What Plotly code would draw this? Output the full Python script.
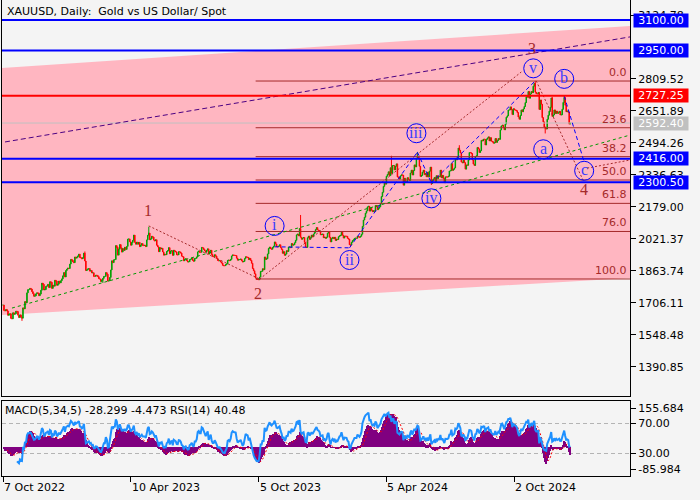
import numpy as np
import pandas as pd
import plotly.graph_objects as go

# ---------------- data ----------------
start_date = "2022-10-07"
holidays = ["2022-12-26", "2023-01-02", "2023-04-07", "2023-12-25",
            "2024-01-01", "2024-03-29", "2024-12-25", "2025-01-01"]

# daily closes, one line per month (Oct 2022 .. Dec 2024)
close = [
    1695, 1668, 1666, 1673, 1666, 1644, 1650, 1652, 1629, 1627, 1657, 1649, 1652, 1665, 1663, 1645, 1633,
    1647, 1636, 1630, 1681, 1676, 1712, 1706, 1755, 1771, 1771, 1777, 1774, 1761, 1751, 1738, 1740, 1750, 1755, 1754, 1741, 1749, 1768,
    1803, 1797, 1769, 1771, 1787, 1789, 1797, 1781, 1810, 1807, 1777, 1793, 1788, 1817, 1813, 1792, 1798, 1813, 1804, 1815, 1824,
    1839, 1855, 1833, 1865, 1872, 1877, 1875, 1897, 1920, 1916, 1908, 1904, 1932, 1926, 1931, 1937, 1946, 1929, 1928, 1923, 1928,
    1951, 1912, 1865, 1868, 1873, 1875, 1862, 1865, 1853, 1854, 1836, 1836, 1842, 1841, 1835, 1825, 1823, 1811, 1817, 1826,
    1836, 1836, 1855, 1847, 1813, 1814, 1831, 1868, 1913, 1904, 1918, 1919, 1988, 1979, 1941, 1970, 1993, 1977, 1956, 1973, 1964, 1980, 1969,
    1984, 2020, 2021, 2007, 1990, 2003, 2014, 2040, 2004, 1995, 2005, 1995, 2004, 1983, 1990, 1998, 1989, 1988, 1990,
    1983, 2016, 2039, 2050, 2017, 2021, 2034, 2030, 2015, 2011, 2017, 1990, 1982, 1958, 1978, 1971, 1975, 1957, 1941, 1946, 1943, 1959, 1963,
    1978, 1948, 1961, 1963, 1940, 1965, 1961, 1957, 1943, 1942, 1958, 1957, 1951, 1936, 1933, 1913, 1921, 1923, 1914, 1907, 1908, 1919,
    1921, 1926, 1915, 1911, 1925, 1925, 1932, 1957, 1961, 1955, 1955, 1979, 1977, 1969, 1962, 1955, 1965, 1972, 1946, 1959, 1965,
    1944, 1934, 1934, 1943, 1936, 1925, 1915, 1913, 1914, 1907, 1902, 1891, 1889, 1889, 1894, 1898, 1915, 1917, 1914, 1920, 1937, 1942, 1940,
    1940, 1939, 1926, 1916, 1919, 1919, 1922, 1913, 1907, 1910, 1924, 1933, 1931, 1930, 1919, 1925, 1915, 1901, 1875, 1864, 1849,
    1828, 1822, 1821, 1820, 1833, 1861, 1861, 1874, 1869, 1932, 1920, 1923, 1947, 1974, 1981, 1973, 1970, 1979, 1985, 2006, 1996, 1983,
    1982, 1985, 1992, 1978, 1969, 1950, 1958, 1940, 1946, 1963, 1959, 1981, 1981, 1978, 1998, 1990, 1992, 2002, 2014, 2041, 2045, 2036,
    2072, 2029, 2019, 2025, 2028, 2004, 1981, 1979, 2027, 2035, 2019, 2027, 2040, 2031, 2045, 2053, 2067, 2077, 2065, 2063,
    2058, 2041, 2043, 2045, 2027, 2030, 2024, 2029, 2049, 2055, 2029, 2006, 2023, 2029, 2022, 2029, 2013, 2020, 2018, 2032, 2036, 2039,
    2054, 2039, 2025, 2035, 2034, 2034, 2024, 2020, 1992, 1992, 2004, 2013, 2017, 2024, 2025, 2024, 2035, 2031, 2029, 2034, 2044,
    2083, 2114, 2128, 2148, 2159, 2179, 2182, 2158, 2175, 2162, 2155, 2160, 2157, 2186, 2181, 2165, 2172, 2179, 2194, 2230,
    2251, 2280, 2300, 2291, 2330, 2339, 2352, 2333, 2372, 2344, 2383, 2383, 2361, 2379, 2391, 2327, 2322, 2316, 2332, 2337, 2335, 2286,
    2320, 2303, 2301, 2323, 2314, 2309, 2346, 2360, 2336, 2358, 2386, 2376, 2415, 2425, 2421, 2379, 2329, 2334, 2350, 2360, 2338, 2343, 2327,
    2350, 2327, 2355, 2375, 2294, 2311, 2316, 2324, 2303, 2333, 2319, 2330, 2328, 2360, 2322, 2334, 2319, 2298, 2327, 2326,
    2326, 2330, 2356, 2357, 2392, 2359, 2364, 2371, 2414, 2411, 2422, 2469, 2458, 2445, 2400, 2396, 2409, 2397, 2365, 2386, 2384, 2410, 2447,
    2446, 2442, 2410, 2390, 2383, 2427, 2431, 2472, 2465, 2447, 2456, 2507, 2504, 2513, 2512, 2484, 2512, 2518, 2524, 2504, 2520, 2503,
    2500, 2493, 2495, 2516, 2497, 2506, 2516, 2512, 2558, 2578, 2582, 2570, 2559, 2587, 2621, 2628, 2657, 2657, 2672, 2658, 2634,
    2663, 2657, 2656, 2653, 2644, 2622, 2611, 2630, 2657, 2648, 2662, 2674, 2693, 2722, 2720, 2748, 2715, 2736, 2748, 2742, 2774, 2788, 2744,
    2736, 2736, 2743, 2659, 2706, 2685, 2619, 2598, 2573, 2565, 2563, 2611, 2631, 2651, 2670, 2716, 2625, 2632, 2657, 2639, 2651,
    2640, 2643, 2650, 2632, 2633, 2660, 2694, 2718, 2680, 2648, 2652, 2646, 2587, 2592.40,
]

# notable wicks
wick_high = {"2023-02-02": 1959, "2023-05-04": 2081, "2023-12-04": 2139, "2024-04-12": 2431,
             "2024-05-20": 2450, "2024-07-17": 2483, "2024-10-31": 2800, "2024-11-25": 2721,
             "2024-12-11": 2726}
wick_low = {"2022-11-03": 1617, "2023-02-28": 1804, "2023-10-06": 1818, "2024-02-14": 1984,
            "2024-06-07": 2287, "2024-11-14": 2541}

price_ticks = [1390.85, 1548.48, 1706.11, 1863.74, 2021.37, 2179.00, 2336.63,
               2494.26, 2651.89, 2809.52, 3124.78]
time_labels = [("2022-10-07", "7 Oct 2022"), ("2023-04-10", "10 Apr 2023"),
               ("2023-10-05", "5 Oct 2023"), ("2024-04-05", "5 Apr 2024"),
               ("2024-10-02", "2 Oct 2024")]

level_lines = [(3100.00, "#0000FF"), (2950.00, "#0000FF"), (2727.25, "#FF0000"),
               (2416.00, "#0000FF"), (2300.50, "#0000FF")]
bid_price = 2592.40

fib_high, fib_low = 2799.5, 1823.4
fib_start = "2023-10-02"
fib_ratios = [0.0, 23.6, 38.2, 50.0, 61.8, 76.0, 100.0]

channel_top = [2864, 3071]
channel_bottom = [1646, 1828]
green_line = [("2022-10-20", 1680), (None, 2533)]
purple_line = [("2022-10-11", 2499), (None, 3017)]

brown_dashed = [
    [("2023-05-04", 2085), ("2023-10-06", 1823)],
    [("2023-10-06", 1823), ("2024-10-11", 2844)],
    [("2024-11-01", 2800), ("2025-01-09", 2310)],
    [("2025-01-15", 2370), (None, 2410)],
]
blue_dashed = [
    [("2023-10-27", 1982), ("2024-02-13", 1977), ("2024-05-20", 2449),
     ("2024-06-07", 2297), ("2024-10-31", 2800)],
    [("2024-12-11", 2726), ("2025-01-10", 2400)],
]

wave_numbers = [("1", "2023-05-03", 2160), ("2", "2023-10-04", 1754),
                ("3", "2024-10-28", 2962), ("4", "2025-01-10", 2266)]
wave_circles = [("i", "2023-10-27", 2085), ("ii", "2024-02-13", 1917),
                ("iii", "2024-05-17", 2542), ("iv", "2024-06-07", 2221),
                ("v", "2024-10-29", 2862), ("a", "2024-11-12", 2463),
                ("b", "2024-12-11", 2810), ("c", "2025-01-10", 2357)]

label_boxes = [(3100.00, "#0000FF"), (2950.00, "#0000FF"), (2727.25, "#FF0000"),
               (2592.40, "#C0C0C0"), (2416.00, "#0000FF"), (2300.50, "#0000FF")]

# ---------------- derived ----------------
n = len(close)
dates = pd.bdate_range(start_date, periods=n + 100, freq="C", holidays=holidays)
pos = {d.strftime("%Y-%m-%d"): i for i, d in enumerate(dates)}
xs = np.arange(n)
x_range = [-1.0, 627.9]

def X(d):
    return x_range[1] if d is None else pos[d]

opn = [close[0]] + close[:-1]
hi = [max(o, c) for o, c in zip(opn, close)]
lo = [min(o, c) for o, c in zip(opn, close)]
for d, v in wick_high.items():
    hi[pos[d]] = max(hi[pos[d]], v)
for d, v in wick_low.items():
    lo[pos[d]] = min(lo[pos[d]], v)

s = pd.Series(close, dtype=float)
macd = s.ewm(span=5, adjust=False).mean() - s.ewm(span=34, adjust=False).mean()
signal = macd.rolling(5).mean()
delta = s.diff()
gain = delta.clip(lower=0)
loss = -delta.clip(upper=0)
rs = gain.ewm(alpha=1 / 14, adjust=False).mean() / loss.ewm(alpha=1 / 14, adjust=False).mean()
rsi = 100 - 100 / (1 + rs)
rsi[:14] = np.nan

FONT = "DejaVu Sans"
BROWN = "#A52A2A"

fig = go.Figure()
fig.add_trace(go.Candlestick(
    x=xs, open=opn, high=hi, low=lo, close=close,
    increasing=dict(line=dict(color="#00A000", width=1), fillcolor="#00A000"),
    decreasing=dict(line=dict(color="#FF0000", width=1), fillcolor="#FF0000"),
    whiskerwidth=0, hoverinfo="skip", xaxis="x", yaxis="y"))
fig.add_trace(go.Bar(x=xs, y=macd, width=1.0, marker=dict(color="#800080", line=dict(width=0)),
                     xaxis="x2", yaxis="y2", hoverinfo="skip"))
fig.add_trace(go.Scatter(x=xs, y=signal, mode="lines", line=dict(color="#FF0000", width=1, dash="2px,2px"),
                         xaxis="x2", yaxis="y2", hoverinfo="skip"))
fig.add_trace(go.Scatter(x=xs, y=rsi, mode="lines", line=dict(color="#1E90FF", width=2),
                         xaxis="x2", yaxis="y3", hoverinfo="skip"))

shapes = []
# pink channel
shapes.append(dict(type="path", xref="x", yref="y", layer="below", line=dict(width=0),
                   fillcolor="#FFB6C1",
                   path=f"M {x_range[0]},{channel_top[0]} L {x_range[1]},{channel_top[1]} "
                        f"L {x_range[1]},{channel_bottom[1]} L {x_range[0]},{channel_bottom[0]} Z"))
# fib lines
fib_levels = [fib_high - r / 100 * (fib_high - fib_low) for r in fib_ratios]
for lv in fib_levels:
    shapes.append(dict(type="line", xref="x", yref="y", x0=X(fib_start), x1=x_range[1], y0=lv, y1=lv,
                       line=dict(color=BROWN, width=1)))
# bid line
shapes.append(dict(type="line", xref="x", yref="y", x0=x_range[0], x1=x_range[1], y0=bid_price, y1=bid_price,
                   line=dict(color="#C0C0C0", width=1)))
# trend lines
for (d0, p0), (d1, p1) in [green_line]:
    shapes.append(dict(type="line", xref="x", yref="y", x0=X(d0), x1=X(d1), y0=p0, y1=p1,
                       line=dict(color="#009900", width=1, dash="3px,3px")))
for (d0, p0), (d1, p1) in [purple_line]:
    shapes.append(dict(type="line", xref="x", yref="y", x0=X(d0), x1=X(d1), y0=p0, y1=p1,
                       line=dict(color="#4B0082", width=1, dash="5px,3px")))
for seg in brown_dashed:
    for (d0, p0), (d1, p1) in zip(seg[:-1], seg[1:]):
        shapes.append(dict(type="line", xref="x", yref="y", x0=X(d0), x1=X(d1), y0=p0, y1=p1,
                           line=dict(color=BROWN, width=1, dash="2px,2px")))
for seg in blue_dashed:
    for (d0, p0), (d1, p1) in zip(seg[:-1], seg[1:]):
        shapes.append(dict(type="line", xref="x", yref="y", x0=X(d0), x1=X(d1), y0=p0, y1=p1,
                           line=dict(color="#0000FF", width=1, dash="4px,3px")))
# level lines
for lv, col in level_lines:
    shapes.append(dict(type="line", xref="x", yref="y", x0=x_range[0], x1=x_range[1], y0=lv, y1=lv,
                       line=dict(color=col, width=2)))
# wave circles
for txt, d, p in wave_circles:
    shapes.append(dict(type="circle", xref="x", yref="y", xsizemode="pixel", ysizemode="pixel",
                       xanchor=X(d), yanchor=p, x0=-9.5, x1=9.5, y0=-9.5, y1=9.5,
                       line=dict(color="#0000FF", width=1)))
# RSI levels
for lv in (70, 30):
    shapes.append(dict(type="line", xref="paper", yref="y3", x0=0, x1=1, y0=lv, y1=lv, layer="below",
                       line=dict(color="#B4B4B4", width=1, dash="4px,3px")))

ann = []
ann.append(dict(text="XAUUSD, Daily:\u00a0 Gold vs US Dollar/ Spot", xref="paper", yref="paper",
                x=0, y=(476 - 11.7) / 476, xanchor="left", yanchor="middle", xshift=3, showarrow=False,
                font=dict(family=FONT, size=11, color="black")))
ann.append(dict(text="MACD(5,34,5) -28.299 -4.473 RSI(14) 40.48", xref="paper", yref="paper",
                x=0, y=(476 - 410.7) / 476, xanchor="left", yanchor="middle", xshift=1, showarrow=False,
                font=dict(family=FONT, size=11, color="black")))
for d, t in time_labels:
    ann.append(dict(text=t, xref="x2", yref="paper", x=pos[d], y=-12 / 476, xanchor="left",
                    yanchor="middle", xshift=-1, showarrow=False,
                    font=dict(family=FONT, size=11, color="black")))
for r, lv in zip(fib_ratios, fib_levels):
    ann.append(dict(text=f"{r:.1f}", xref="x", yref="y", x=x_range[1], y=lv, xanchor="right",
                    yanchor="bottom", xshift=-1, yshift=0, showarrow=False,
                    font=dict(family=FONT, size=11, color=BROWN)))
for t, d, p in wave_numbers:
    ann.append(dict(text=t, xref="x", yref="y", x=X(d), y=p, showarrow=False,
                    font=dict(family="Liberation Serif", size=16, color=BROWN)))
for t, d, p in wave_circles:
    ann.append(dict(text=t, xref="x", yref="y", x=X(d), y=p, showarrow=False, yshift=1,
                    font=dict(family="Liberation Serif", size=16, color="#3A3AFF")))
for lv, col in label_boxes:
    ann.append(dict(text=f"{lv:.2f}", xref="paper", yref="y", x=1, y=lv, xanchor="left",
                    yanchor="middle", xshift=3, width=54, height=13, borderpad=0, bgcolor=col,
                    showarrow=False, font=dict(family=FONT, size=11, color="white")))

axis_common = dict(showgrid=False, zeroline=False, linecolor="black", linewidth=1,
                   tickcolor="black", tickfont=dict(family=FONT, size=11, color="black"))

fig.update_layout(
    width=700, height=500, margin=dict(l=2, r=70, t=0, b=24),
    paper_bgcolor="#F4F4F4", plot_bgcolor="#F4F4F4", showlegend=False, hovermode=False,
    bargap=0,
    xaxis=dict(domain=[0, 1], range=x_range, anchor="y", showline=True, mirror=False,
               showticklabels=False, ticks="", rangeslider=dict(visible=False), **axis_common),
    yaxis=dict(domain=[1 - 396 / 476, 1], range=[1246.4, 3199.0], side="right", anchor="x",
               showline=True, mirror=True, ticks="outside", ticklen=5,
               tickvals=price_ticks, ticktext=[f"{v:.2f}" for v in price_ticks], **axis_common),
    xaxis2=dict(domain=[0, 1], range=x_range, anchor="y2", showline=True, mirror=True,
                ticks="outside", ticklen=5, tickvals=[pos[d] for d, _ in time_labels],
                showticklabels=False, **axis_common),
    yaxis2=dict(domain=[0, 75 / 476], range=[-113.85, 184.75], side="right", anchor="x2",
                showline=True, mirror=True, ticks="outside", ticklen=5,
                tickvals=[155.684, -85.984], ticktext=["155.684", "-85.984"], **axis_common),
    yaxis3=dict(overlaying="y2", range=[0, 100], side="right", anchor="x2", showline=False,
                ticks="outside", ticklen=5, tickvals=[70, 30], ticktext=["70.00", "30.00"],
                **axis_common),
    shapes=shapes, annotations=ann,
)

fig.write_html("out.html")
